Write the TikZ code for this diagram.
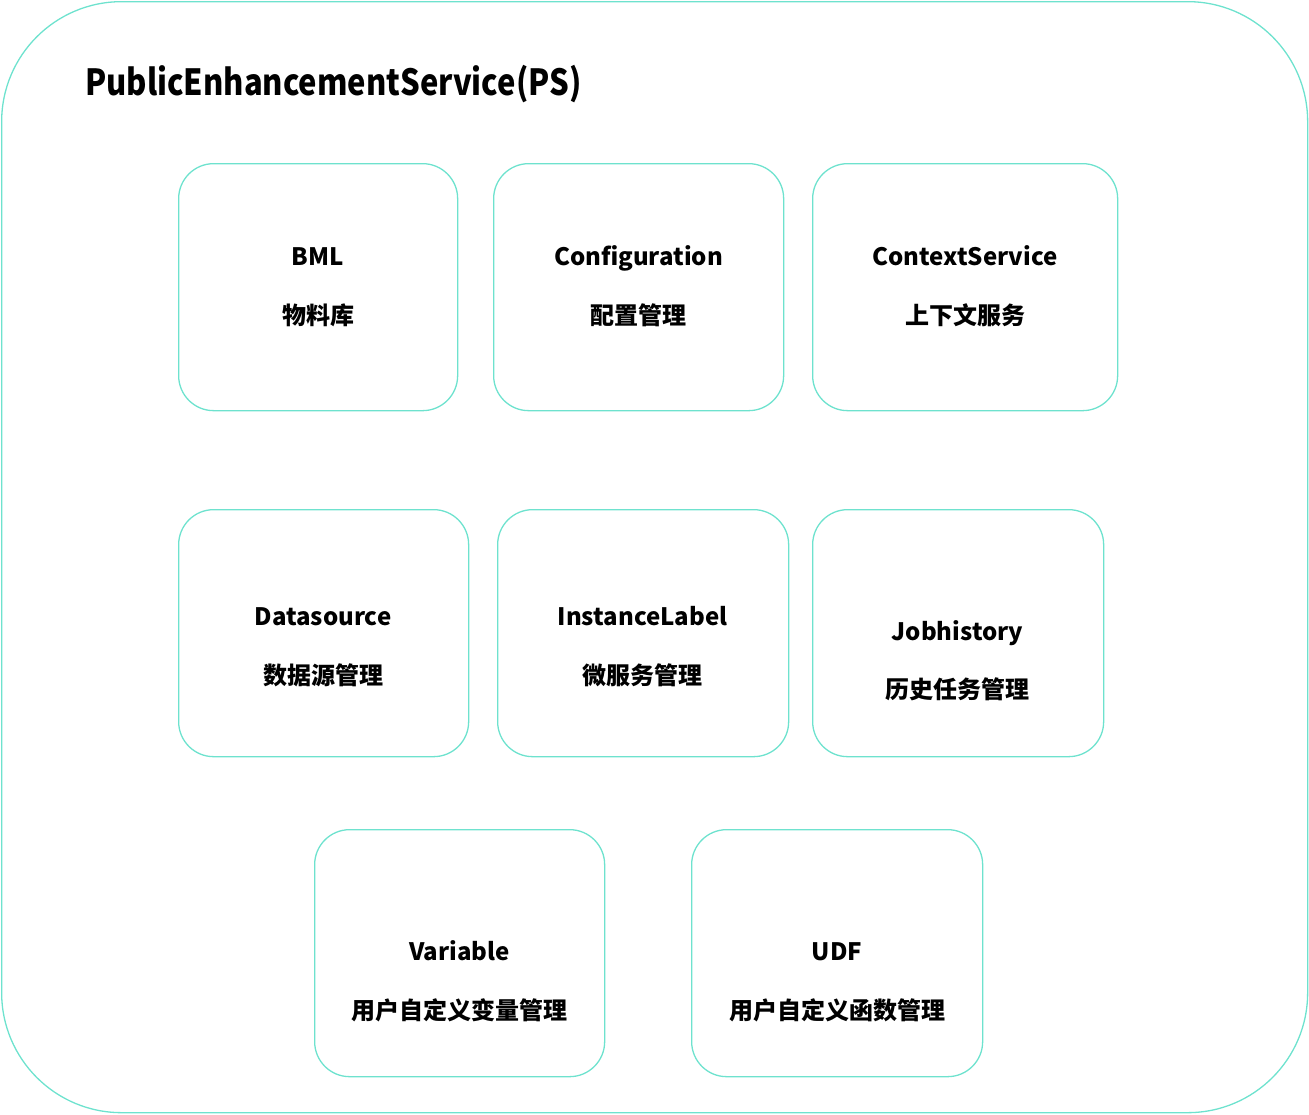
\documentclass[tikz,border=0pt]{standalone}
\usepackage{fontspec}
\setmainfont{Noto Sans CJK SC}
\newfontfamily\titlefont{Noto Sans CJK SC}[FakeStretch=0.86]
\definecolor{teal1}{RGB}{110,226,206}
\tikzset{
  box/.style={draw=teal1, line width=1.3pt, rounded corners=35pt, anchor=north west, inner sep=0pt},
  lbl/.style={font=\fontsize{24}{24}\selectfont\bfseries, inner sep=0pt, anchor=base},
}
\begin{document}
\begin{tikzpicture}[x=1pt,y=-1pt]
\useasboundingbox (0,0) rectangle (1309,1114);
\node[draw=teal1, line width=1.3pt, rounded corners=120pt, anchor=north west, minimum width=1306pt, minimum height=1111pt, inner sep=0pt] (outer) at (1,1) {};
\node[font=\titlefont\fontsize{36}{36}\selectfont\bfseries, anchor=base west, inner sep=0pt] (title) at (85,95) {PublicEnhancementService(PS)};
% row 1
\node[box, minimum width=279pt, minimum height=247pt] (bml) at (178,163) {};
\node[lbl] (bml1) at (318,265) {BML};
\node[lbl] (bml2) at (318,324) {物料库};
\node[box, minimum width=290pt, minimum height=247pt] (conf) at (493,163) {};
\node[lbl] (conf1) at (638.5,265) {Configuration};
\node[lbl] (conf2) at (638.5,324) {配置管理};
\node[box, minimum width=305pt, minimum height=247pt] (ctx) at (812,163) {};
\node[lbl] (ctx1) at (965,265) {ContextService};
\node[lbl] (ctx2) at (965,324) {上下文服务};
% row 2
\node[box, minimum width=290pt, minimum height=247pt] (ds) at (178,509) {};
\node[lbl] (ds1) at (323,625) {Datasource};
\node[lbl] (ds2) at (323,684) {数据源管理};
\node[box, minimum width=291pt, minimum height=247pt] (il) at (497,509) {};
\node[lbl] (il1) at (642.5,625) {InstanceLabel};
\node[lbl] (il2) at (642.5,684) {微服务管理};
\node[box, minimum width=291pt, minimum height=247pt] (jh) at (812,509) {};
\node[lbl] (jh1) at (957.5,640) {Jobhistory};
\node[lbl] (jh2) at (957.5,698) {历史任务管理};
% row 3
\node[box, minimum width=290pt, minimum height=247pt] (var) at (314,829) {};
\node[lbl] (var1) at (459.5,960) {Variable};
\node[lbl] (var2) at (459.5,1019) {用户自定义变量管理};
\node[box, minimum width=291pt, minimum height=247pt] (udf) at (691,829) {};
\node[lbl] (udf1) at (837,960) {UDF};
\node[lbl] (udf2) at (837,1019) {用户自定义函数管理};
\end{tikzpicture}
\end{document}
